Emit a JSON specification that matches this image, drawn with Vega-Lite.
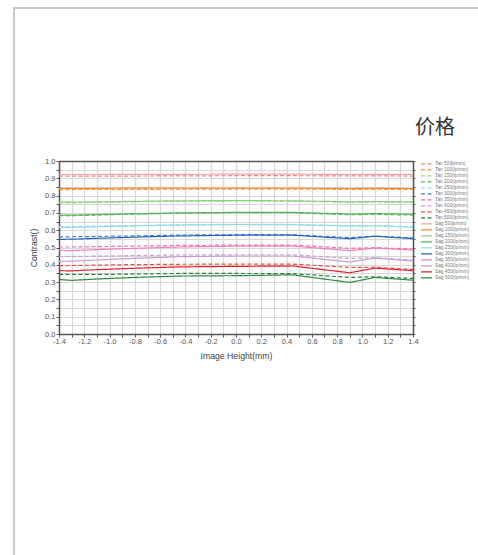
{
"$schema":"https://vega.github.io/schema/vega-lite/v6.json",
"width":474,"height":557,
"autosize":{"type":"none"},
"padding":{"left":14,"top":8,"right":-10,"bottom":-10},
"background":"white",
"config":{"view":{"stroke":"#c8c8c8","strokeWidth":2},"axis":{"labelFont":"Liberation Sans","titleFont":"Liberation Sans"}},
"title":{"text":"价格","anchor":"end","frame":"group","orient":"top","offset":0,"dx":-33,"dy":130,"fontSize":20,"font":"Noto Sans CJK SC","fontWeight":"normal","color":"#333333"},
"data":{"values":[
{"s":"Tan 50(lp/mm)","x":-1.4,"y":0.912},{"s":"Tan 50(lp/mm)","x":-1.3,"y":0.912},{"s":"Tan 50(lp/mm)","x":-1.1,"y":0.913},{"s":"Tan 50(lp/mm)","x":-0.8,"y":0.913},{"s":"Tan 50(lp/mm)","x":-0.45,"y":0.914},{"s":"Tan 50(lp/mm)","x":0,"y":0.915},{"s":"Tan 50(lp/mm)","x":0.45,"y":0.915},{"s":"Tan 50(lp/mm)","x":0.9,"y":0.914},{"s":"Tan 50(lp/mm)","x":1.1,"y":0.914},{"s":"Tan 50(lp/mm)","x":1.4,"y":0.913},
{"s":"Tan 100(lp/mm)","x":-1.4,"y":0.835},{"s":"Tan 100(lp/mm)","x":-1.3,"y":0.835},{"s":"Tan 100(lp/mm)","x":-1.1,"y":0.836},{"s":"Tan 100(lp/mm)","x":-0.8,"y":0.836},{"s":"Tan 100(lp/mm)","x":-0.45,"y":0.837},{"s":"Tan 100(lp/mm)","x":0,"y":0.838},{"s":"Tan 100(lp/mm)","x":0.45,"y":0.838},{"s":"Tan 100(lp/mm)","x":0.9,"y":0.836},{"s":"Tan 100(lp/mm)","x":1.1,"y":0.837},{"s":"Tan 100(lp/mm)","x":1.4,"y":0.835},
{"s":"Tan 150(lp/mm)","x":-1.4,"y":0.758},{"s":"Tan 150(lp/mm)","x":-1.3,"y":0.758},{"s":"Tan 150(lp/mm)","x":-1.1,"y":0.761},{"s":"Tan 150(lp/mm)","x":-0.8,"y":0.764},{"s":"Tan 150(lp/mm)","x":-0.45,"y":0.767},{"s":"Tan 150(lp/mm)","x":0,"y":0.769},{"s":"Tan 150(lp/mm)","x":0.45,"y":0.768},{"s":"Tan 150(lp/mm)","x":0.9,"y":0.761},{"s":"Tan 150(lp/mm)","x":1.1,"y":0.763},{"s":"Tan 150(lp/mm)","x":1.4,"y":0.761},
{"s":"Tan 200(lp/mm)","x":-1.4,"y":0.684},{"s":"Tan 200(lp/mm)","x":-1.3,"y":0.684},{"s":"Tan 200(lp/mm)","x":-1.1,"y":0.688},{"s":"Tan 200(lp/mm)","x":-0.8,"y":0.693},{"s":"Tan 200(lp/mm)","x":-0.45,"y":0.698},{"s":"Tan 200(lp/mm)","x":0,"y":0.701},{"s":"Tan 200(lp/mm)","x":0.45,"y":0.701},{"s":"Tan 200(lp/mm)","x":0.9,"y":0.689},{"s":"Tan 200(lp/mm)","x":1.1,"y":0.692},{"s":"Tan 200(lp/mm)","x":1.4,"y":0.687},
{"s":"Tan 250(lp/mm)","x":-1.4,"y":0.620},{"s":"Tan 250(lp/mm)","x":-1.3,"y":0.621},{"s":"Tan 250(lp/mm)","x":-1.1,"y":0.624},{"s":"Tan 250(lp/mm)","x":-0.8,"y":0.627},{"s":"Tan 250(lp/mm)","x":-0.45,"y":0.631},{"s":"Tan 250(lp/mm)","x":0,"y":0.634},{"s":"Tan 250(lp/mm)","x":0.45,"y":0.633},{"s":"Tan 250(lp/mm)","x":0.9,"y":0.626},{"s":"Tan 250(lp/mm)","x":1.1,"y":0.627},{"s":"Tan 250(lp/mm)","x":1.4,"y":0.620},
{"s":"Tan 300(lp/mm)","x":-1.4,"y":0.561},{"s":"Tan 300(lp/mm)","x":-1.3,"y":0.562},{"s":"Tan 300(lp/mm)","x":-1.1,"y":0.564},{"s":"Tan 300(lp/mm)","x":-0.8,"y":0.567},{"s":"Tan 300(lp/mm)","x":-0.45,"y":0.572},{"s":"Tan 300(lp/mm)","x":0,"y":0.574},{"s":"Tan 300(lp/mm)","x":0.45,"y":0.574},{"s":"Tan 300(lp/mm)","x":0.9,"y":0.557},{"s":"Tan 300(lp/mm)","x":1.1,"y":0.566},{"s":"Tan 300(lp/mm)","x":1.4,"y":0.555},
{"s":"Tan 350(lp/mm)","x":-1.4,"y":0.503},{"s":"Tan 350(lp/mm)","x":-1.3,"y":0.503},{"s":"Tan 350(lp/mm)","x":-1.1,"y":0.505},{"s":"Tan 350(lp/mm)","x":-0.8,"y":0.508},{"s":"Tan 350(lp/mm)","x":-0.45,"y":0.512},{"s":"Tan 350(lp/mm)","x":0,"y":0.514},{"s":"Tan 350(lp/mm)","x":0.45,"y":0.514},{"s":"Tan 350(lp/mm)","x":0.9,"y":0.495},{"s":"Tan 350(lp/mm)","x":1.1,"y":0.499},{"s":"Tan 350(lp/mm)","x":1.4,"y":0.491},
{"s":"Tan 400(lp/mm)","x":-1.4,"y":0.448},{"s":"Tan 400(lp/mm)","x":-1.3,"y":0.448},{"s":"Tan 400(lp/mm)","x":-1.1,"y":0.450},{"s":"Tan 400(lp/mm)","x":-0.8,"y":0.453},{"s":"Tan 400(lp/mm)","x":-0.45,"y":0.457},{"s":"Tan 400(lp/mm)","x":0,"y":0.458},{"s":"Tan 400(lp/mm)","x":0.45,"y":0.458},{"s":"Tan 400(lp/mm)","x":0.9,"y":0.437},{"s":"Tan 400(lp/mm)","x":1.1,"y":0.441},{"s":"Tan 400(lp/mm)","x":1.4,"y":0.427},
{"s":"Tan 450(lp/mm)","x":-1.4,"y":0.395},{"s":"Tan 450(lp/mm)","x":-1.3,"y":0.396},{"s":"Tan 450(lp/mm)","x":-1.1,"y":0.398},{"s":"Tan 450(lp/mm)","x":-0.8,"y":0.401},{"s":"Tan 450(lp/mm)","x":-0.45,"y":0.403},{"s":"Tan 450(lp/mm)","x":0,"y":0.404},{"s":"Tan 450(lp/mm)","x":0.45,"y":0.404},{"s":"Tan 450(lp/mm)","x":0.9,"y":0.385},{"s":"Tan 450(lp/mm)","x":1.1,"y":0.386},{"s":"Tan 450(lp/mm)","x":1.4,"y":0.373},
{"s":"Tan 500(lp/mm)","x":-1.4,"y":0.345},{"s":"Tan 500(lp/mm)","x":-1.3,"y":0.345},{"s":"Tan 500(lp/mm)","x":-1.1,"y":0.344},{"s":"Tan 500(lp/mm)","x":-0.8,"y":0.347},{"s":"Tan 500(lp/mm)","x":-0.45,"y":0.350},{"s":"Tan 500(lp/mm)","x":0,"y":0.350},{"s":"Tan 500(lp/mm)","x":0.45,"y":0.349},{"s":"Tan 500(lp/mm)","x":0.9,"y":0.327},{"s":"Tan 500(lp/mm)","x":1.1,"y":0.331},{"s":"Tan 500(lp/mm)","x":1.4,"y":0.321},
{"s":"Sag 50(lp/mm)","x":-1.4,"y":0.922},{"s":"Sag 50(lp/mm)","x":-1.3,"y":0.922},{"s":"Sag 50(lp/mm)","x":-1.1,"y":0.922},{"s":"Sag 50(lp/mm)","x":-0.8,"y":0.923},{"s":"Sag 50(lp/mm)","x":-0.45,"y":0.923},{"s":"Sag 50(lp/mm)","x":0,"y":0.924},{"s":"Sag 50(lp/mm)","x":0.45,"y":0.924},{"s":"Sag 50(lp/mm)","x":0.9,"y":0.922},{"s":"Sag 50(lp/mm)","x":1.1,"y":0.923},{"s":"Sag 50(lp/mm)","x":1.4,"y":0.923},
{"s":"Sag 100(lp/mm)","x":-1.4,"y":0.842},{"s":"Sag 100(lp/mm)","x":-1.3,"y":0.842},{"s":"Sag 100(lp/mm)","x":-1.1,"y":0.842},{"s":"Sag 100(lp/mm)","x":-0.8,"y":0.843},{"s":"Sag 100(lp/mm)","x":-0.45,"y":0.843},{"s":"Sag 100(lp/mm)","x":0,"y":0.843},{"s":"Sag 100(lp/mm)","x":0.45,"y":0.843},{"s":"Sag 100(lp/mm)","x":0.9,"y":0.841},{"s":"Sag 100(lp/mm)","x":1.1,"y":0.842},{"s":"Sag 100(lp/mm)","x":1.4,"y":0.841},
{"s":"Sag 150(lp/mm)","x":-1.4,"y":0.762},{"s":"Sag 150(lp/mm)","x":-1.3,"y":0.762},{"s":"Sag 150(lp/mm)","x":-1.1,"y":0.764},{"s":"Sag 150(lp/mm)","x":-0.8,"y":0.767},{"s":"Sag 150(lp/mm)","x":-0.45,"y":0.770},{"s":"Sag 150(lp/mm)","x":0,"y":0.771},{"s":"Sag 150(lp/mm)","x":0.45,"y":0.770},{"s":"Sag 150(lp/mm)","x":0.9,"y":0.764},{"s":"Sag 150(lp/mm)","x":1.1,"y":0.766},{"s":"Sag 150(lp/mm)","x":1.4,"y":0.764},
{"s":"Sag 200(lp/mm)","x":-1.4,"y":0.688},{"s":"Sag 200(lp/mm)","x":-1.3,"y":0.687},{"s":"Sag 200(lp/mm)","x":-1.1,"y":0.690},{"s":"Sag 200(lp/mm)","x":-0.8,"y":0.695},{"s":"Sag 200(lp/mm)","x":-0.45,"y":0.700},{"s":"Sag 200(lp/mm)","x":0,"y":0.703},{"s":"Sag 200(lp/mm)","x":0.45,"y":0.703},{"s":"Sag 200(lp/mm)","x":0.9,"y":0.693},{"s":"Sag 200(lp/mm)","x":1.1,"y":0.696},{"s":"Sag 200(lp/mm)","x":1.4,"y":0.692},
{"s":"Sag 250(lp/mm)","x":-1.4,"y":0.616},{"s":"Sag 250(lp/mm)","x":-1.3,"y":0.617},{"s":"Sag 250(lp/mm)","x":-1.1,"y":0.620},{"s":"Sag 250(lp/mm)","x":-0.8,"y":0.625},{"s":"Sag 250(lp/mm)","x":-0.45,"y":0.630},{"s":"Sag 250(lp/mm)","x":0,"y":0.633},{"s":"Sag 250(lp/mm)","x":0.45,"y":0.632},{"s":"Sag 250(lp/mm)","x":0.9,"y":0.624},{"s":"Sag 250(lp/mm)","x":1.1,"y":0.626},{"s":"Sag 250(lp/mm)","x":1.4,"y":0.617},
{"s":"Sag 300(lp/mm)","x":-1.4,"y":0.547},{"s":"Sag 300(lp/mm)","x":-1.3,"y":0.548},{"s":"Sag 300(lp/mm)","x":-1.1,"y":0.553},{"s":"Sag 300(lp/mm)","x":-0.8,"y":0.560},{"s":"Sag 300(lp/mm)","x":-0.45,"y":0.567},{"s":"Sag 300(lp/mm)","x":0,"y":0.571},{"s":"Sag 300(lp/mm)","x":0.45,"y":0.571},{"s":"Sag 300(lp/mm)","x":0.9,"y":0.551},{"s":"Sag 300(lp/mm)","x":1.1,"y":0.565},{"s":"Sag 300(lp/mm)","x":1.4,"y":0.551},
{"s":"Sag 350(lp/mm)","x":-1.4,"y":0.483},{"s":"Sag 350(lp/mm)","x":-1.3,"y":0.482},{"s":"Sag 350(lp/mm)","x":-1.1,"y":0.488},{"s":"Sag 350(lp/mm)","x":-0.8,"y":0.495},{"s":"Sag 350(lp/mm)","x":-0.45,"y":0.503},{"s":"Sag 350(lp/mm)","x":0,"y":0.508},{"s":"Sag 350(lp/mm)","x":0.45,"y":0.508},{"s":"Sag 350(lp/mm)","x":0.9,"y":0.482},{"s":"Sag 350(lp/mm)","x":1.1,"y":0.497},{"s":"Sag 350(lp/mm)","x":1.4,"y":0.485},
{"s":"Sag 400(lp/mm)","x":-1.4,"y":0.420},{"s":"Sag 400(lp/mm)","x":-1.3,"y":0.421},{"s":"Sag 400(lp/mm)","x":-1.1,"y":0.428},{"s":"Sag 400(lp/mm)","x":-0.8,"y":0.437},{"s":"Sag 400(lp/mm)","x":-0.45,"y":0.447},{"s":"Sag 400(lp/mm)","x":0,"y":0.451},{"s":"Sag 400(lp/mm)","x":0.45,"y":0.451},{"s":"Sag 400(lp/mm)","x":0.9,"y":0.416},{"s":"Sag 400(lp/mm)","x":1.1,"y":0.439},{"s":"Sag 400(lp/mm)","x":1.4,"y":0.422},
{"s":"Sag 450(lp/mm)","x":-1.4,"y":0.366},{"s":"Sag 450(lp/mm)","x":-1.3,"y":0.365},{"s":"Sag 450(lp/mm)","x":-1.1,"y":0.372},{"s":"Sag 450(lp/mm)","x":-0.8,"y":0.380},{"s":"Sag 450(lp/mm)","x":-0.45,"y":0.388},{"s":"Sag 450(lp/mm)","x":0,"y":0.391},{"s":"Sag 450(lp/mm)","x":0.45,"y":0.393},{"s":"Sag 450(lp/mm)","x":0.9,"y":0.354},{"s":"Sag 450(lp/mm)","x":1.1,"y":0.381},{"s":"Sag 450(lp/mm)","x":1.4,"y":0.366},
{"s":"Sag 500(lp/mm)","x":-1.4,"y":0.315},{"s":"Sag 500(lp/mm)","x":-1.3,"y":0.310},{"s":"Sag 500(lp/mm)","x":-1.1,"y":0.318},{"s":"Sag 500(lp/mm)","x":-0.8,"y":0.327},{"s":"Sag 500(lp/mm)","x":-0.45,"y":0.335},{"s":"Sag 500(lp/mm)","x":0,"y":0.337},{"s":"Sag 500(lp/mm)","x":0.45,"y":0.342},{"s":"Sag 500(lp/mm)","x":0.9,"y":0.298},{"s":"Sag 500(lp/mm)","x":1.1,"y":0.327},{"s":"Sag 500(lp/mm)","x":1.4,"y":0.311}
]},
"layer":[
{"mark":{"type":"line","strokeWidth":1.2},
"encoding":{
"x":{"field":"x","type":"quantitative","scale":{"domain":[-1.4,1.4],"range":[45,399],"nice":false,"zero":false},
 "axis":{"orient":"bottom","offset":-231,"values":[-1.4,-1.3,-1.2,-1.1,-1.0,-0.9,-0.8,-0.7,-0.6,-0.5,-0.4,-0.3,-0.2,-0.1,0,0.1,0.2,0.3,0.4,0.5,0.6,0.7,0.8,0.9,1.0,1.1,1.2,1.3,1.4],
 "labelExpr":"abs(datum.value*5 - round(datum.value*5)) < 0.01 ? replace(format(datum.value, '.1f'), '−', '-') : ''",
 "grid":false,"domainColor":"#555555","domainWidth":1.5,"tickColor":"#555555","tickSize":3,"tickWidth":1,
 "labelFontSize":7.5,"labelColor":"#555555","labelPadding":0,"labelFlush":false,"labelOverlap":false,
 "title":"Image Height(mm)","titleFontSize":8.7,"titleColor":"#444444","titleFontWeight":"normal","titlePadding":7}},
"y":{"field":"y","type":"quantitative","scale":{"domain":[0,1],"range":[326,153],"nice":false,"zero":false},
 "axis":{"orient":"left","offset":-45,"values":[0,0.05,0.1,0.15,0.2,0.25,0.3,0.35,0.4,0.45,0.5,0.55,0.6,0.65,0.7,0.75,0.8,0.85,0.9,0.95,1.0],
 "labelExpr":"abs(datum.value*10 - round(datum.value*10)) < 0.01 ? format(datum.value, '.1f') : ''",
 "grid":true,"gridColor":"#d8d8d8","gridWidth":1.2,"domainColor":"#555555","domainWidth":1.5,"tickColor":"#555555","tickSize":3,"tickWidth":1,
 "labelFontSize":7.5,"labelColor":"#555555","labelPadding":1,"labelFlush":false,"labelOverlap":false,
 "title":"Contrast()","titleFontSize":8.7,"titleColor":"#444444","titleFontWeight":"normal","titlePadding":6}},
"color":{"field":"s","type":"nominal",
 "scale":{"domain":["Tan 50(lp/mm)","Tan 100(lp/mm)","Tan 150(lp/mm)","Tan 200(lp/mm)","Tan 250(lp/mm)","Tan 300(lp/mm)","Tan 350(lp/mm)","Tan 400(lp/mm)","Tan 450(lp/mm)","Tan 500(lp/mm)","Sag 50(lp/mm)","Sag 100(lp/mm)","Sag 150(lp/mm)","Sag 200(lp/mm)","Sag 250(lp/mm)","Sag 300(lp/mm)","Sag 350(lp/mm)","Sag 400(lp/mm)","Sag 450(lp/mm)","Sag 500(lp/mm)"],
 "range":["#f4817f","#f7923e","#a3d69a","#5cb85c","#98d9e8","#3d7fd1","#ee6fb6","#cf9ad6","#ee4b4b","#2e7d3a","#f5a3ab","#fb8a2c","#8ccf7e","#56b05a","#8fdbe8","#2563b3","#f07fbf","#cc9ad4","#e51f24","#2f8a3d"]},
 "legend":{"orient":"none","legendX":406,"legendY":153,"title":null,"padding":0,"labelFontSize":4.8,"labelColor":"#777777","labelFont":"Liberation Sans","symbolSize":121,"symbolStrokeWidth":1.2,"clipHeight":5.9,"rowPadding":-1.4,"labelOffset":2,"symbolType":"stroke"}},
"strokeDash":{"field":"s","type":"nominal",
 "scale":{"domain":["Tan 50(lp/mm)","Tan 100(lp/mm)","Tan 150(lp/mm)","Tan 200(lp/mm)","Tan 250(lp/mm)","Tan 300(lp/mm)","Tan 350(lp/mm)","Tan 400(lp/mm)","Tan 450(lp/mm)","Tan 500(lp/mm)","Sag 50(lp/mm)","Sag 100(lp/mm)","Sag 150(lp/mm)","Sag 200(lp/mm)","Sag 250(lp/mm)","Sag 300(lp/mm)","Sag 350(lp/mm)","Sag 400(lp/mm)","Sag 450(lp/mm)","Sag 500(lp/mm)"],
 "range":[[4,2.5],[4,2.5],[4,2.5],[4,2.5],[4,2.5],[4,2.5],[4,2.5],[4,2.5],[4,2.5],[4,2.5],[1,0],[1,0],[1,0],[1,0],[1,0],[1,0],[1,0],[1,0],[1,0],[1,0]]},
 "legend":{"orient":"none","legendX":406,"legendY":153,"title":null,"padding":0,"labelFontSize":4.8,"labelColor":"#777777","labelFont":"Liberation Sans","symbolSize":121,"symbolStrokeWidth":1.2,"clipHeight":5.9,"rowPadding":-1.4,"labelOffset":2,"symbolType":"stroke"}}
}},
{"mark":{"type":"point","opacity":0},
"encoding":{
"x":{"field":"x","type":"quantitative","axis":{"orient":"top","offset":-153,"values":[-1.4,-1.3,-1.2,-1.1,-1.0,-0.9,-0.8,-0.7,-0.6,-0.5,-0.4,-0.3,-0.2,-0.1,0,0.1,0.2,0.3,0.4,0.5,0.6,0.7,0.8,0.9,1.0,1.1,1.2,1.3,1.4],"grid":true,"gridColor":"#d8d8d8","gridWidth":1.2,"ticks":false,"labels":false,"title":null,"domainColor":"#555555","domainWidth":1.5}},
"y":{"field":"y","type":"quantitative","axis":{"orient":"right","offset":-75,"grid":false,"ticks":true,"tickSize":2,"tickColor":"#555555","values":[0,0.05,0.1,0.15,0.2,0.25,0.3,0.35,0.4,0.45,0.5,0.55,0.6,0.65,0.7,0.75,0.8,0.85,0.9,0.95,1.0],"labels":false,"title":null,"domainColor":"#555555","domainWidth":1.5}}
}}
],
"resolve":{"axis":{"x":"independent","y":"independent"}}
}
